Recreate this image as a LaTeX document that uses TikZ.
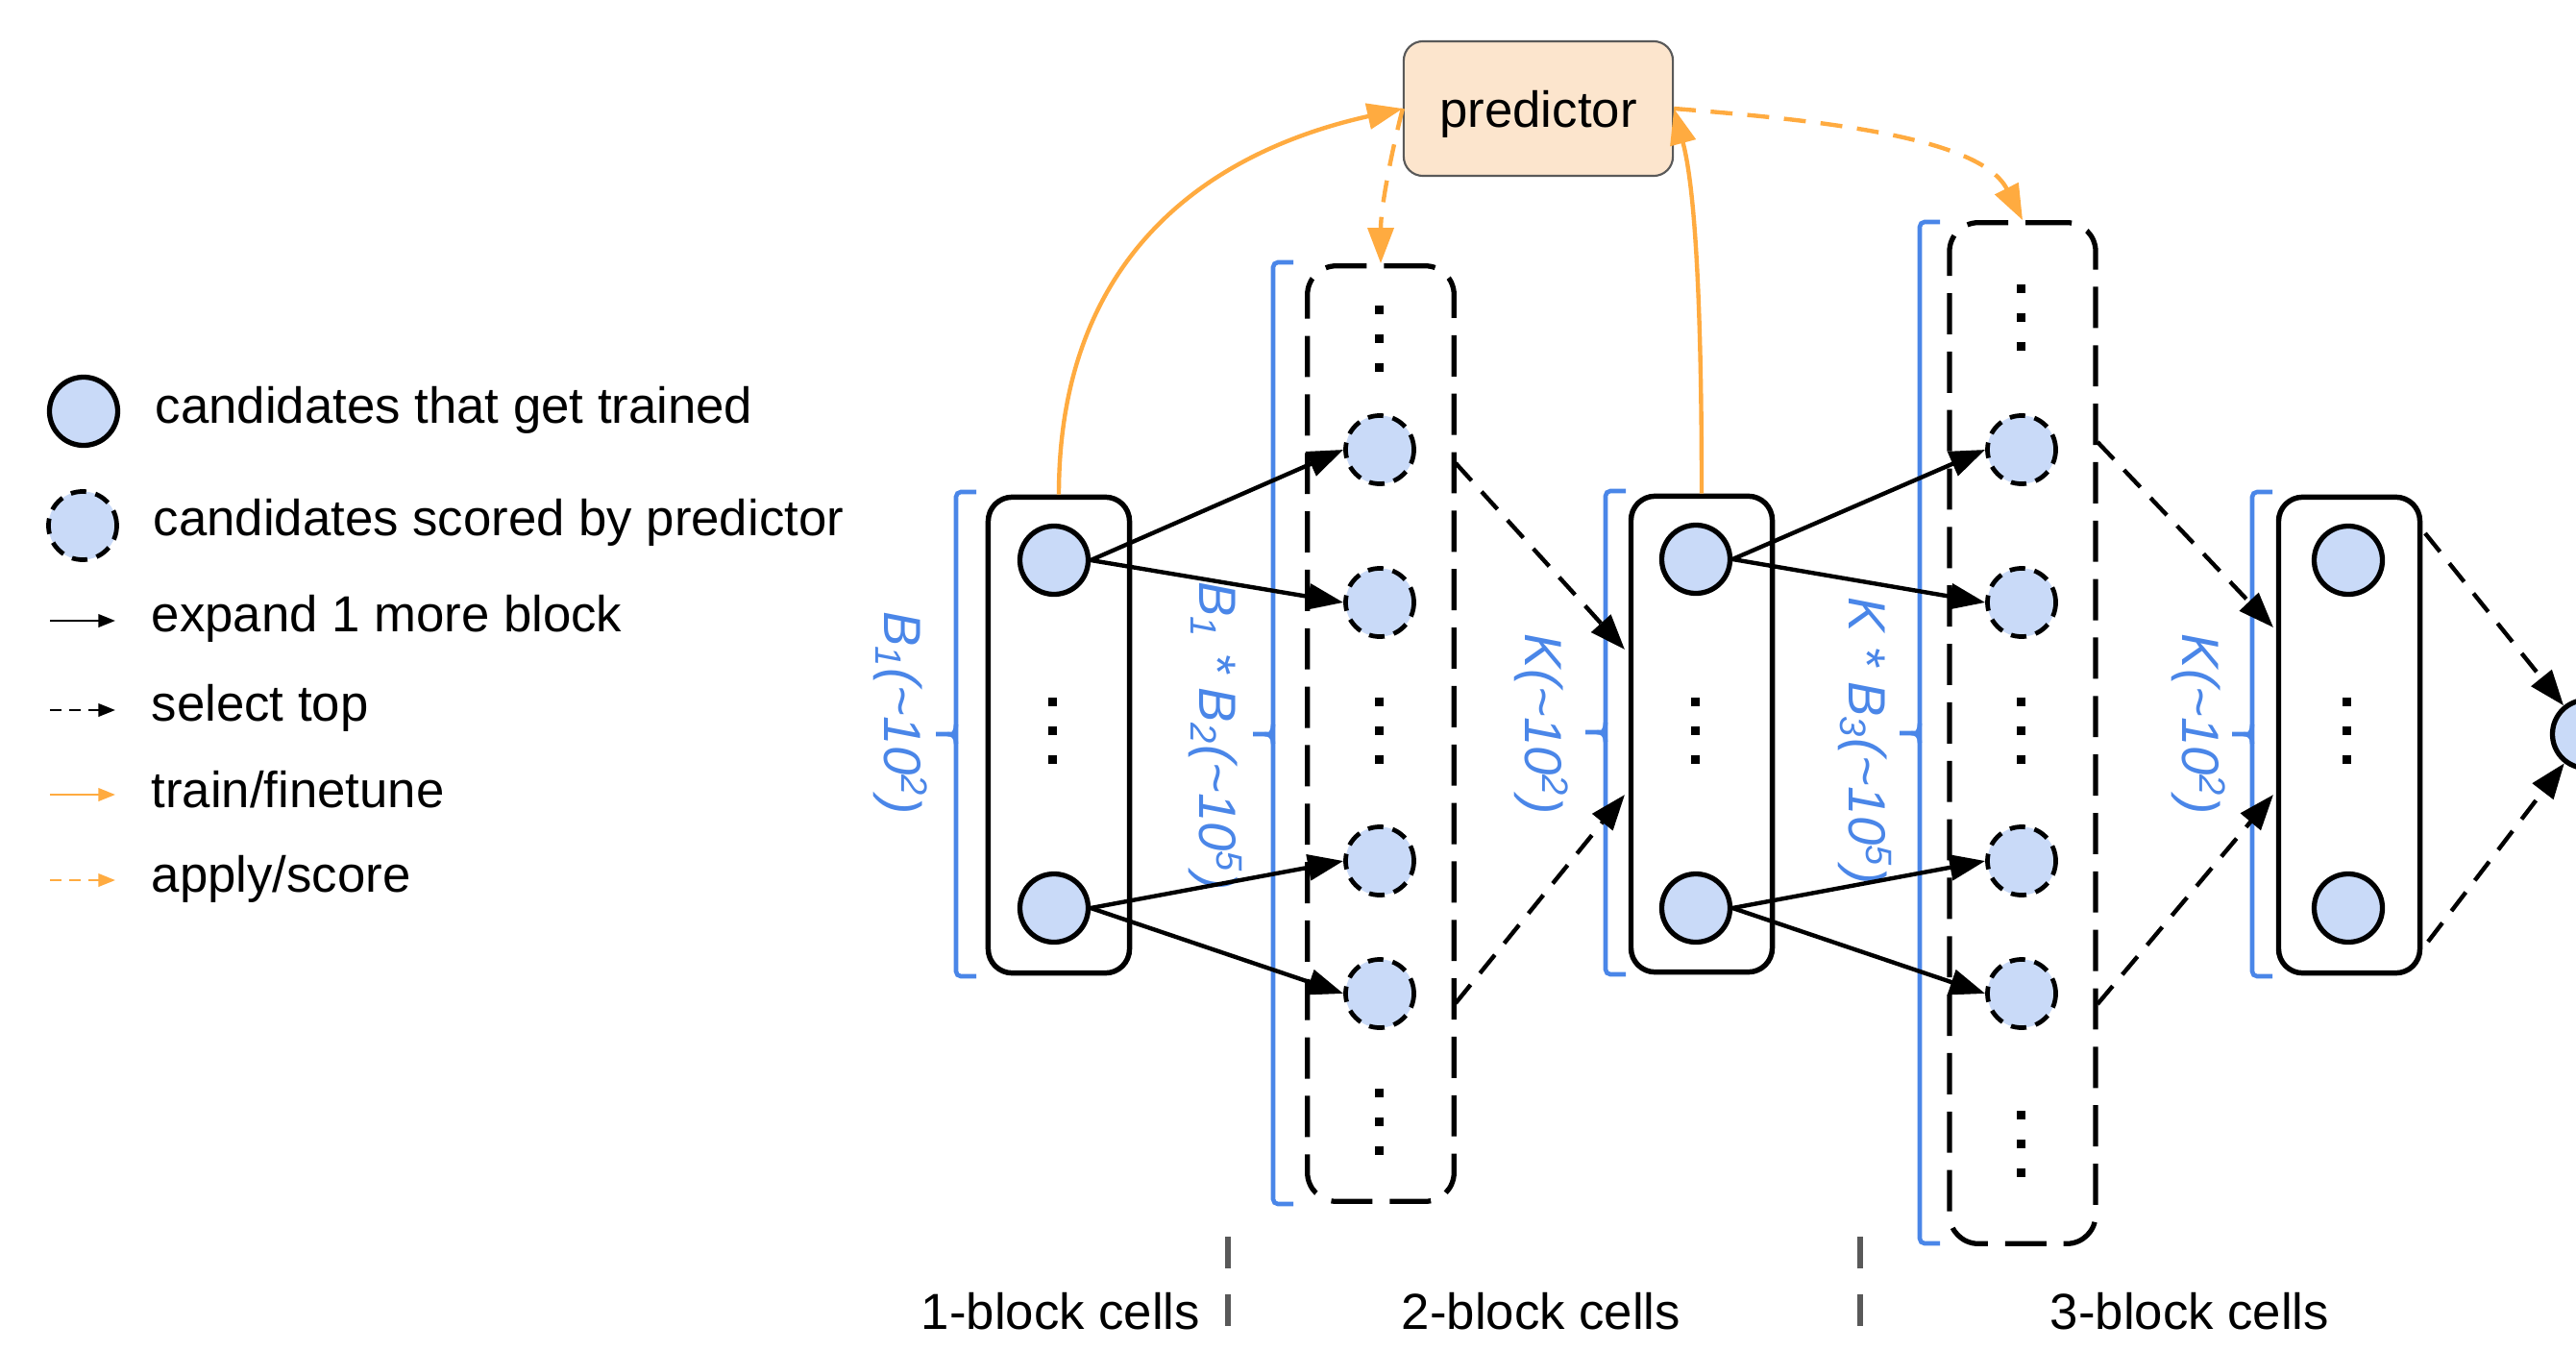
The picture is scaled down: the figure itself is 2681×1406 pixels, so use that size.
\documentclass[tikz,border=0pt]{standalone}
\usepackage{fontspec}
\setmainfont{Liberation Sans}
\usetikzlibrary{arrows.meta}
\definecolor{cfill}{HTML}{C9DAF8}
\definecolor{brkblue}{HTML}{4A86E8}
\definecolor{orng}{HTML}{FFAB40}
\definecolor{predfill}{HTML}{FCE5CD}
\definecolor{predline}{HTML}{595959}
\definecolor{sepgray}{HTML}{595959}
\newcommand\sqdots[2]{\foreach \dy in {-30,0,30}{\fill ({#1-4.5},{#2+(\dy)-4.5}) rectangle ++(9,9);}}
\newcommand\bluebrk[4]{%
  \draw[brk] ({#1+21},#2) -- (#1,#2) -- (#1,#4) -- ({#1+21},#4);
  \draw[brk] ({#1-21},#3) -- ({#1-9},#3) .. controls ({#1-3},#3) and (#1,{#3-3}) .. (#1,{#3-10});
  \draw[brk] ({#1-9},#3) .. controls ({#1-3},#3) and (#1,{#3+3}) .. (#1,{#3+10});
}
\tikzset{
  tcirc/.style={circle, draw=black, line width=1.5pt, fill=cfill, minimum size=0.71cm, inner sep=0pt},
  scirc/.style={tcirc, line width=1.35pt, dash pattern=on 4.6pt off 2.8pt},
  cellbox/.style={draw=black, rounded corners=0.25cm, line width=1.55pt, minimum width=1.47cm, minimum height=4.95cm, inner sep=0pt},
  dcellbox/.style={cellbox, rounded corners=0.3cm, line width=1.5pt, dash pattern=on 12.2pt off 5.1pt},
  expand/.style={-{Triangle[length=10.5pt,width=7.6pt]}, line width=1.25pt, draw=black},
  seltop/.style={expand, dash pattern=on 7pt off 4.4pt},
  train/.style={-{Triangle[length=10.5pt,width=7.6pt]}, line width=1.25pt, draw=orng},
  score/.style={train, dash pattern=on 6.5pt off 4.4pt},
  legexp/.style={-{Triangle[length=5pt,width=3.8pt]}, line width=0.7pt, draw=black},
  legsel/.style={legexp, dash pattern=on 3.4pt off 2.3pt},
  legtrain/.style={legexp, draw=orng},
  legscore/.style={legsel, draw=orng},
  brk/.style={draw=brkblue, line width=1.3pt, rounded corners=0.05cm},
  txt/.style={inner sep=0pt, font=\fontsize{15}{18}\selectfont},
  lbl/.style={inner sep=0pt, rotate=-90, text=brkblue, font=\fontsize{15.5}{18}\selectfont\itshape},
  pred/.style={draw=predline, fill=predfill, line width=0.6pt, rounded corners=0.2cm, minimum width=2.8cm, minimum height=1.4cm, text depth=0pt, font=\fontsize{15}{18}\selectfont},
  sep/.style={draw=sepgray, line width=1.7pt, dash pattern=on 9.4pt off 7.7pt}
}
\begin{document}
\begin{tikzpicture}[x=0.01cm,y=-0.01cm]
\useasboundingbox (0,0) rectangle (2681,1406);
\fill[white] (0,0) rectangle (2681,1406);
% legend
\node[tcirc] (lg1) at (87,428) {};
\node[scirc] (lg2) at (86,547) {};
\node[txt, anchor=base west] (lt1) at (161,440) {candidates that get trained};
\node[txt, anchor=base west] (lt2) at (159,557) {candidates scored by predictor};
\node[txt, anchor=base west] (lt3) at (157,657) {expand 1 more block};
\node[txt, anchor=base west] (lt4) at (157,750) {select top};
\node[txt, anchor=base west] (lt5) at (157,840) {train/finetune};
\node[txt, anchor=base west] (lt6) at (157,928) {apply/score};
\coordinate (la1) at (52,646); \coordinate (lb1) at (120,646);
\coordinate (la2) at (52,739); \coordinate (lb2) at (120,739);
\coordinate (la3) at (52,827); \coordinate (lb3) at (120,827);
\coordinate (la4) at (52,916); \coordinate (lb4) at (120,916);
\draw[legexp] (la1) -- (lb1);
\draw[legsel] (la2) -- (lb2);
\draw[legtrain] (la3) -- (lb3);
\draw[legscore] (la4) -- (lb4);
% predictor
\node[pred] (pred) at (1601,113) {predictor};
% column 1
\node[cellbox] (b1) at (1102,765) {};
\node[tcirc] (c11) at (1097,583) {};
\node[tcirc] (c12) at (1097,945) {};
\sqdots{1095}{760}
% column 2
\node[dcellbox, minimum width=1.525cm, minimum height=9.73cm] (b2) at (1437,763.5) {};
\node[scirc] (c21) at (1436,468) {};
\node[scirc] (c22) at (1436,627) {};
\node[scirc] (c23) at (1436,896) {};
\node[scirc] (c24) at (1436,1034) {};
\sqdots{1435}{352}
\sqdots{1435}{760}
\sqdots{1435}{1167}
% column 3
\node[cellbox] (b3) at (1771,764) {};
\node[tcirc] (c31) at (1765,582) {};
\node[tcirc] (c32) at (1765,945) {};
\sqdots{1764}{760}
% column 4
\node[dcellbox, minimum width=1.52cm, minimum height=10.62cm] (b4) at (2105,763) {};
\node[scirc] (c41) at (2104,468) {};
\node[scirc] (c42) at (2104,627) {};
\node[scirc] (c43) at (2104,896) {};
\node[scirc] (c44) at (2104,1034) {};
\sqdots{2103}{330}
\sqdots{2103}{760}
\sqdots{2103}{1190}
% column 5
\node[cellbox] (b5) at (2445,765) {};
\node[tcirc] (c51) at (2444,583) {};
\node[tcirc] (c52) at (2444,945) {};
\sqdots{2442}{760}
\node[tcirc] (c6) at (2692,764) {};
% brackets
\bluebrk{995}{512}{764}{1016}
\bluebrk{1325}{273}{764}{1253}
\bluebrk{1671}{511}{762}{1014}
\bluebrk{1998}{231}{763}{1294}
\bluebrk{2344}{512}{764}{1016}
% labels
\node[lbl] (L1) at (937,742) {B\textsubscript{1}(\textasciitilde10\textsuperscript{2})};
\node[lbl] (L2) at (1265,766) {B\textsubscript{1} * B\textsubscript{2}(\textasciitilde10\textsuperscript{5})};
\node[lbl] (L3) at (1604,754) {K(\textasciitilde10\textsuperscript{2})};
\node[lbl] (L4) at (1941,771) {K * B\textsubscript{3}(\textasciitilde10\textsuperscript{5})};
\node[lbl] (L5) at (2288,754) {K(\textasciitilde10\textsuperscript{2})};
% expand arrows
\draw[expand] (c11.east) -- (c21.west);
\draw[expand] (c11.east) -- (c22.west);
\draw[expand] (c12.east) -- (c23.west);
\draw[expand] (c12.east) -- (c24.west);
\draw[expand] (c31.east) -- (c41.west);
\draw[expand] (c31.east) -- (c42.west);
\draw[expand] (c32.east) -- (c43.west);
\draw[expand] (c32.east) -- (c44.west);
% select top arrows
\coordinate (s2t) at (1515,482); \coordinate (e3t) at (1691,676);
\coordinate (s2b) at (1515,1044); \coordinate (e3b) at (1691,827);
\coordinate (s4t) at (2183,460); \coordinate (e5t) at (2366,653);
\coordinate (s4b) at (2183,1045); \coordinate (e5b) at (2366,827);
\coordinate (s5t) at (2524,555); \coordinate (s5b) at (2527,980);
\draw[seltop] (s2t) -- (e3t);
\draw[seltop] (s2b) -- (e3b);
\draw[seltop] (s4t) -- (e5t);
\draw[seltop] (s4b) -- (e5b);
\draw[seltop] (s5t) -- (c6);
\draw[seltop] (s5b) -- (c6);
% predictor arrows
\draw[train] (b1.north) .. controls (1102,285) and (1236,163) .. (pred.west);
\draw[score] (pred.west) .. controls (1447.5,161) and (1437,217) .. (b2.north);
\draw[train] (b3.north) .. controls (1771,380) and (1768,210) .. (pred.east);
\draw[score] (pred.east) .. controls (1892,125) and (2061,142) .. (b4.north);
% bottom
\node[txt, anchor=base] (t1) at (1104,1383) {1-block cells};
\node[txt, anchor=base] (t2) at (1604,1383) {2-block cells};
\node[txt, anchor=base] (t3) at (2279,1383) {3-block cells};
\draw[sep] (1278,1287) -- (1278,1440);
\draw[sep] (1936,1287) -- (1936,1440);
\end{tikzpicture}
\end{document}
